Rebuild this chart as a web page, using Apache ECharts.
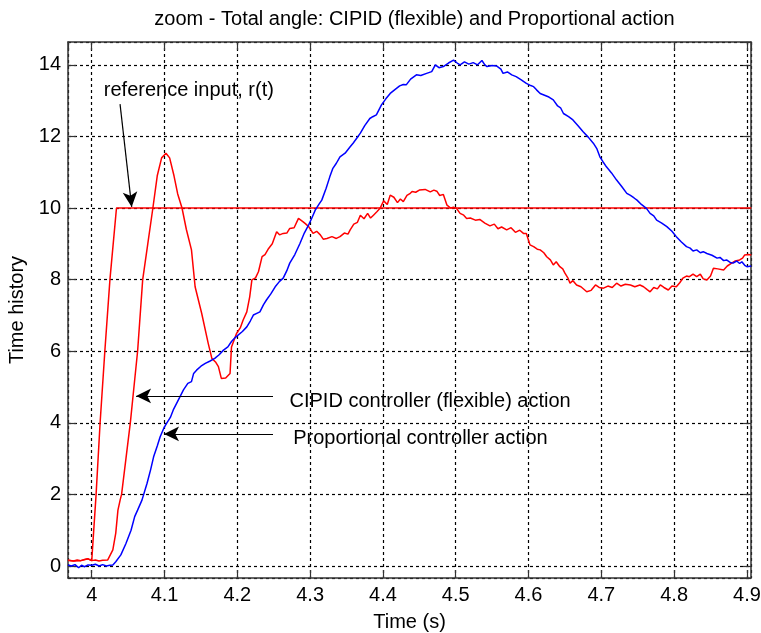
<!DOCTYPE html>
<html>
<head>
<meta charset="utf-8">
<title>zoom - Total angle</title>
<script src="https://cdn.jsdelivr.net/npm/echarts@6/dist/echarts.min.js"></script>
<style>
    html, body { margin: 0; padding: 0; background: #fff; }
    #chart { width: 761px; height: 633px; }
</style>
</head>
<body>
<div id="chart"></div>
<script>
// tick labels
const xTickLabels = [4, 4.1, 4.2, 4.3, 4.4, 4.5, 4.6, 4.7, 4.8, 4.9];
const yTickLabels = [0, 2, 4, 6, 8, 10, 12, 14];

// reference input r(t)
const refTime = [3.9674, 3.975, 3.985, 3.995, 4.0, 4.006, 4.0115, 4.018, 4.025, 4.034, 4.906];
const refValue = [0.16, 0.14, 0.15, 0.2, 0.15, 2, 4, 6, 8, 10, 10];

// CIPID controller (flexible) action
const cipidTime = [
    3.9674, 3.975, 3.98, 3.985, 3.99, 3.995, 4.0, 4.005, 4.01, 4.015, 4.022, 4.029, 4.033, 4.036, 4.039,
    4.041, 4.047, 4.053, 4.058, 4.063, 4.07, 4.077, 4.084, 4.09, 4.096, 4.102, 4.107, 4.113, 4.118, 4.124,
    4.13, 4.137, 4.142, 4.151, 4.16, 4.165, 4.17, 4.174, 4.178, 4.184, 4.19, 4.192, 4.199, 4.204, 4.208,
    4.213, 4.217, 4.22, 4.225, 4.229, 4.234, 4.238, 4.243, 4.248, 4.254, 4.258, 4.263, 4.268, 4.272, 4.278,
    4.284, 4.29, 4.293, 4.298, 4.304, 4.309, 4.314, 4.318, 4.323, 4.33, 4.336, 4.341, 4.347, 4.352, 4.355,
    4.36, 4.365, 4.369, 4.374, 4.379, 4.383, 4.387, 4.392, 4.396, 4.401, 4.406, 4.41, 4.415, 4.42, 4.424,
    4.428, 4.433, 4.437, 4.44, 4.445, 4.45, 4.458, 4.465, 4.47, 4.474, 4.478, 4.483, 4.488, 4.493, 4.497,
    4.501, 4.506, 4.511, 4.515, 4.52, 4.527, 4.533, 4.54, 4.547, 4.553, 4.558, 4.563, 4.57, 4.576, 4.582,
    4.588, 4.593, 4.597, 4.602, 4.607, 4.612, 4.616, 4.621, 4.625, 4.63, 4.634, 4.638, 4.643, 4.647, 4.65,
    4.654, 4.657, 4.661, 4.666, 4.672, 4.68, 4.686, 4.692, 4.697, 4.703, 4.709, 4.715, 4.721, 4.727, 4.733,
    4.74, 4.746, 4.753, 4.758, 4.763, 4.767, 4.772, 4.777, 4.781, 4.786, 4.792, 4.797, 4.803, 4.808, 4.812,
    4.817, 4.821, 4.826, 4.831, 4.836, 4.84, 4.845, 4.85, 4.854, 4.86, 4.868, 4.873, 4.879, 4.884, 4.89,
    4.894, 4.897, 4.902, 4.906
];
const cipidValue = [
    0.16, 0.14, 0.17, 0.15, 0.18, 0.2, 0.15, 0.17, 0.14, 0.16, 0.17, 0.45, 0.92, 1.56, 1.84,
    2.0, 3.0, 4.0, 5.0, 6.0, 8.0, 9.0, 10.0, 10.9, 11.4, 11.53, 11.4, 10.9, 10.4, 10.0,
    9.4, 8.83, 7.8, 7.06, 6.22, 5.8, 5.7, 5.57, 5.24, 5.25, 5.38, 6.12, 6.5, 6.65, 6.87,
    7.1, 7.52, 7.99, 8.05, 8.22, 8.64, 8.7, 8.87, 9.0, 9.34, 9.25, 9.29, 9.3, 9.43, 9.45,
    9.71, 9.62, 9.57, 9.48, 9.29, 9.35, 9.25, 9.13, 9.15, 9.2, 9.15, 9.2, 9.3, 9.27, 9.39,
    9.55, 9.6, 9.8, 9.7, 9.85, 9.72, 9.8, 9.9, 9.99, 10.2, 10.1, 10.36, 10.3, 10.15, 10.25,
    10.18, 10.35, 10.4, 10.46, 10.44, 10.5, 10.52, 10.45, 10.5, 10.47, 10.35, 10.38, 10.08, 10.0, 10.02,
    9.99, 9.85, 9.8, 9.71, 9.72, 9.66, 9.68, 9.58, 9.5, 9.55, 9.42, 9.47, 9.39, 9.45, 9.32,
    9.38, 9.29, 9.29, 8.97, 8.92, 8.85, 8.83, 8.75, 8.64, 8.55, 8.41, 8.5, 8.36, 8.3, 8.18,
    8.05, 7.9, 7.97, 7.85, 7.8, 7.66, 7.7, 7.85, 7.78, 7.76, 7.82, 7.78, 7.9, 7.82, 7.87,
    7.85, 7.8, 7.85, 7.8, 7.72, 7.66, 7.78, 7.74, 7.85, 7.78, 7.71, 7.82, 7.8, 7.92, 8.04,
    8.1, 8.08, 8.15, 8.08, 8.15, 8.02, 7.99, 8.1, 8.32, 8.3, 8.27, 8.38, 8.46, 8.52, 8.55,
    8.6, 8.69, 8.7, 8.69
];

// Proportional controller action
const propTime = [
    3.9674, 3.972, 3.977, 3.982, 3.986, 3.99, 3.995, 4.0, 4.005, 4.01, 4.015, 4.02, 4.025, 4.029, 4.033,
    4.04, 4.047, 4.054, 4.059, 4.063, 4.069, 4.076, 4.081, 4.085, 4.09, 4.094, 4.099, 4.103, 4.108, 4.112,
    4.118, 4.126, 4.132, 4.137, 4.14, 4.144, 4.15, 4.156, 4.162, 4.169, 4.175, 4.181, 4.187, 4.192, 4.197,
    4.201, 4.207, 4.213, 4.218, 4.222, 4.226, 4.231, 4.236, 4.24, 4.246, 4.252, 4.258, 4.263, 4.268, 4.272,
    4.279, 4.286, 4.292, 4.298, 4.303, 4.307, 4.312, 4.316, 4.322, 4.327, 4.331, 4.336, 4.341, 4.348, 4.355,
    4.359, 4.364, 4.369, 4.375, 4.382, 4.386, 4.391, 4.398, 4.404, 4.41, 4.416, 4.423, 4.428, 4.432, 4.438,
    4.446, 4.452, 4.46, 4.467, 4.472, 4.477, 4.483, 4.49, 4.497, 4.502, 4.506, 4.512, 4.518, 4.524, 4.53,
    4.536, 4.54, 4.543, 4.55, 4.556, 4.562, 4.565, 4.571, 4.577, 4.583, 4.59, 4.597, 4.603, 4.607, 4.611,
    4.616, 4.622, 4.628, 4.634, 4.64, 4.644, 4.648, 4.655, 4.661, 4.668, 4.675, 4.682, 4.689, 4.694, 4.698,
    4.702, 4.707, 4.714, 4.721, 4.728, 4.735, 4.74, 4.745, 4.749, 4.755, 4.762, 4.767, 4.772, 4.776, 4.783,
    4.79, 4.797, 4.803, 4.81, 4.817, 4.822, 4.826, 4.831, 4.836, 4.84, 4.845, 4.852, 4.859, 4.863, 4.868,
    4.872, 4.877, 4.881, 4.886, 4.89, 4.893, 4.897, 4.9, 4.906
];
const propValue = [
    0.03, 0.0, 0.04, -0.05, 0.02, -0.02, 0.03, 0.02, 0.05, 0.0, 0.04, 0.0, 0.02, 0.03, 0.12,
    0.31, 0.63, 1.0, 1.38, 1.56, 1.84, 2.31, 2.7, 3.05, 3.35, 3.61, 3.85, 3.99, 4.15, 4.36,
    4.6, 4.92, 5.1, 5.15, 5.38, 5.47, 5.58, 5.66, 5.72, 5.8, 5.9, 6.03, 6.12, 6.27, 6.38,
    6.45, 6.55, 6.68, 6.85, 7.01, 7.05, 7.1, 7.3, 7.43, 7.6, 7.8, 7.95, 8.04, 8.25, 8.46,
    8.7, 9.01, 9.3, 9.53, 9.75, 9.94, 10.1, 10.22, 10.55, 10.87, 11.1, 11.25, 11.43, 11.53, 11.71,
    11.81, 11.95, 12.09, 12.3, 12.5, 12.55, 12.6, 12.88, 13.05, 13.2, 13.3, 13.41, 13.45, 13.44, 13.6,
    13.72, 13.7, 13.76, 13.81, 14.0, 13.92, 13.95, 14.05, 14.13, 14.05, 14.0, 14.08, 14.02, 14.06, 14.0,
    14.12, 14.0, 13.95, 13.98, 13.97, 13.88, 13.76, 13.8, 13.72, 13.67, 13.58, 13.48, 13.42, 13.39, 13.3,
    13.2, 13.15, 13.1, 13.02, 12.85, 12.8, 12.64, 12.55, 12.46, 12.3, 12.13, 11.98, 11.81, 11.65, 11.43,
    11.3, 11.15, 10.98, 10.78, 10.6, 10.41, 10.35, 10.28, 10.22, 10.1, 9.99, 9.85, 9.78, 9.66, 9.58,
    9.48, 9.35, 9.2, 9.05, 8.92, 8.88, 8.8, 8.83, 8.75, 8.78, 8.73, 8.68, 8.6, 8.62, 8.53,
    8.55, 8.48, 8.46, 8.52, 8.45, 8.5, 8.4, 8.36, 8.38
];

// annotation texts (left end, vertical middle) and arrows, in data coords
const noteTexts = ['reference input, r(t)', 'CIPID controller (flexible) action', 'Proportional controller action'];
const notePos = [[4.0159, 13.27], [4.271, 4.59], [4.276, 3.55]];
const arrowFrom = [[4.0389, 12.9], [4.249, 4.75], [4.249, 3.69]];
const arrowTo = [[4.0549, 10.03], [4.0609, 4.75], [4.0993, 3.69]];

const FONT = 'Liberation Sans, Arial, sans-serif';
const zip = (xs, ys) => xs.map((x, i) => [x, ys[i]]);
const isTick = (list, v) => list.find(t => Math.abs(t - v) < 1e-6);

const chart = echarts.init(document.getElementById('chart'), null, { renderer: 'canvas' });

// MATLAB 风格的坐标轴 (刻度朝内, 四边都有)
const baseAxis = {
    type: 'value',
    axisLine: { show: true, onZero: false, lineStyle: { color: '#333', width: 1.5 } },
    axisTick: { show: true, inside: true, length: 8, lineStyle: { color: '#333', width: 1.2 } },
    axisLabel: { show: false },
    splitLine: { show: false }
};

const xRange = { min: 3.9674, max: 4.9056, minInterval: 0.1, maxInterval: 0.1 };
const yRange = { min: -0.335, max: 14.637, minInterval: 2, maxInterval: 2 };
const dotted = { show: true, lineStyle: { color: '#000', width: 1.2, type: [3, 3] } };

const option = {
    animation: false,
    backgroundColor: '#fff',
    title: {
        text: 'zoom - Total angle: CIPID (flexible) and Proportional action',
        left: 409.5,
        textAlign: 'center',
        top: 4,
        textStyle: { fontFamily: FONT, fontSize: 20, fontWeight: 'normal', color: '#000' }
    },
    grid: { left: 68, top: 42, right: 10, bottom: 55, containLabel: false, outerBoundsMode: 'none' },
    xAxis: [
        Object.assign({}, baseAxis, xRange, {
            position: 'bottom',
            name: 'Time (s)',
            nameLocation: 'middle',
            nameGap: 34,
            nameTextStyle: { fontFamily: FONT, fontSize: 20, color: '#000' },
            axisLabel: {
                show: true, margin: 7, fontFamily: FONT, fontSize: 20, color: '#000',
                showMinLabel: false, showMaxLabel: false,
                formatter: v => { const t = isTick(xTickLabels, v); return t === undefined ? '' : String(t); }
            },
            splitLine: dotted
        }),
        Object.assign({}, baseAxis, xRange, { position: 'top' })
    ],
    yAxis: [
        Object.assign({}, baseAxis, yRange, {
            position: 'left',
            name: 'Time history',
            nameLocation: 'middle',
            nameGap: 35,
            nameTextStyle: { fontFamily: FONT, fontSize: 20, color: '#000' },
            axisLabel: {
                show: true, margin: 7, fontFamily: FONT, fontSize: 20, color: '#000',
                showMinLabel: false, showMaxLabel: false,
                formatter: v => { const t = isTick(yTickLabels, v); return t === undefined ? '' : String(t); }
            },
            splitLine: dotted
        }),
        Object.assign({}, baseAxis, yRange, { position: 'right' })
    ],
    series: [
        {
            name: 'reference input',
            type: 'line',
            data: zip(refTime, refValue),
            showSymbol: false,
            lineStyle: { color: '#ff0000', width: 1.5 },
            itemStyle: { color: '#ff0000' },
            silent: true,
            z: 3,
            // 注释箭头
            markLine: {
                silent: true,
                animation: false,
                label: { show: false },
                lineStyle: { color: '#000', width: 1.2, type: 'solid' },
                data: arrowFrom.map((from, i) => [
                    { coord: from, symbol: 'none' },
                    { coord: arrowTo[i], symbol: 'arrow', symbolSize: [11, 15] }
                ])
            },
            // 注释文字
            markPoint: {
                silent: true,
                animation: false,
                symbol: 'circle',
                symbolSize: 1,
                itemStyle: { color: 'rgba(0,0,0,0)' },
                label: {
                    show: true, position: 'right', distance: 0,
                    fontFamily: FONT, fontSize: 20, color: '#000'
                },
                data: noteTexts.map((text, i) => ({
                    coord: notePos[i],
                    label: { formatter: text }
                }))
            }
        },
        {
            name: 'CIPID controller (flexible) action',
            type: 'line',
            data: zip(cipidTime, cipidValue),
            showSymbol: false,
            lineStyle: { color: '#ff0000', width: 1.5 },
            itemStyle: { color: '#ff0000' },
            silent: true,
            z: 3
        },
        {
            name: 'Proportional controller action',
            type: 'line',
            data: zip(propTime, propValue),
            showSymbol: false,
            lineStyle: { color: '#0000ff', width: 1.5 },
            itemStyle: { color: '#0000ff' },
            silent: true,
            z: 4
        }
    ]
};

chart.setOption(option);
</script>
</body>
</html>
